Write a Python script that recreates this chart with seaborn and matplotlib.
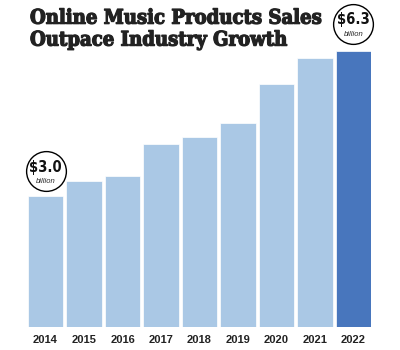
import matplotlib
matplotlib.use("Agg")
import matplotlib.pyplot as plt
import matplotlib.patheffects as pe
import seaborn as sns
import pandas as pd

years = ["2014", "2015", "2016", "2017", "2018", "2019", "2020", "2021", "2022"]
sales = [3.0, 3.33, 3.45, 4.17, 4.33, 4.66, 5.54, 6.14, 6.3]
title_lines = ["Online Music Products Sales", "Outpace Industry Growth"]

light = "#aac8e5"
dark = "#4876bd"
colors = [light] * (len(years) - 1) + [dark]

sns.set_style("white")
df = pd.DataFrame({"year": years, "sales": sales})

fig = plt.figure(figsize=(4, 3.5), dpi=100)
ax = fig.add_axes([0.07, 0.0657, 0.8575, 0.7886])
sns.barplot(data=df, x="year", y="sales", hue="year", palette=colors,
            legend=False, width=0.91, edgecolor="white", linewidth=0.5, ax=ax, saturation=1)
ax.set_xlim(-0.455, 8.455)
ax.set_ylim(0, 6.3)
ax.set_xlabel("")
ax.set_ylabel("")
ax.set_yticks([])
for s in ax.spines.values():
    s.set_visible(False)
ax.tick_params(axis="x", length=0, pad=6)
for lbl in ax.get_xticklabels():
    lbl.set_fontweight("bold")
    lbl.set_fontsize(8)
    lbl.set_color("#222222")
    lbl.set_family("Liberation Sans")

def callout(i, off):
    v = sales[i]
    ax.scatter([i], [v + off], s=820, facecolor="white", edgecolor="black",
               linewidth=1.0, clip_on=False, zorder=5)
    ax.annotate(f"${v:.1f}", (i, v + off), xytext=(0, 3), textcoords="offset points",
                ha="center", va="center", fontsize=10.5, fontweight="bold",
                family="DejaVu Sans", fontstretch="condensed", color="#111111",
                zorder=6, annotation_clip=False)
    ax.annotate("billion", (i, v + off), xytext=(0, -7.5), textcoords="offset points",
                ha="center", va="center", fontsize=5.5, style="italic",
                family="Liberation Sans", zorder=6, annotation_clip=False)

callout(0, 0.55)
callout(8, 0.62)

fig.text(0.075, 0.978, "\n".join(title_lines), ha="left", va="top",
         fontsize=14.5, fontweight="bold", family="DejaVu Serif", fontstretch="condensed",
         color="#222222", linespacing=1.12,
         path_effects=[pe.withStroke(linewidth=0.9, foreground="#222222")])

fig.savefig("out.png", dpi=100)
